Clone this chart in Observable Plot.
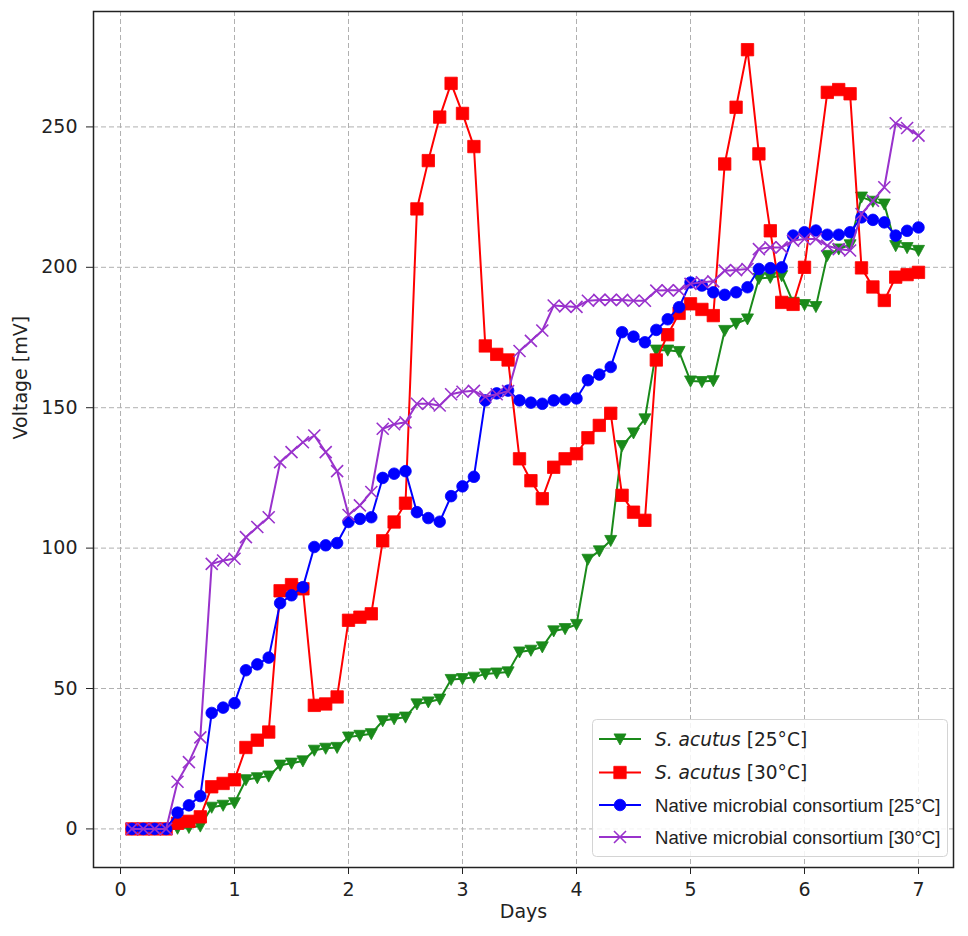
<!DOCTYPE html>
<html>
<head>
<meta charset="utf-8">
<script src="https://cdn.jsdelivr.net/npm/d3@7"></script>
<script src="https://cdn.jsdelivr.net/npm/@observablehq/plot@0.6"></script>
<style>
  html, body { margin: 0; padding: 0; background: white; }
  #wrap { position: relative; width: 968px; height: 936px; font-family: "DejaVu Sans", sans-serif; }
  #legend { position: absolute; left: 592px; top: 719px; overflow: visible; }
</style>
</head>
<body>
<div id="wrap"></div>
<script>
// ---- Data ----
const days = [0.1,0.2,0.3,0.4,0.5,0.6,0.7,0.8,0.9,1.0,
  1.1,1.2,1.3,1.4,1.5,1.6,1.7,1.8,1.9,2.0,
  2.1,2.2,2.3,2.4,2.5,2.6,2.7,2.8,2.9,3.0,
  3.1,3.2,3.3,3.4,3.5,3.6,3.7,3.8,3.9,4.0,
  4.1,4.2,4.3,4.4,4.5,4.6,4.7,4.8,4.9,5.0,
  5.1,5.2,5.3,5.4,5.5,5.6,5.7,5.8,5.9,6.0,
  6.1,6.2,6.3,6.4,6.5,6.6,6.7,6.8,6.9,7.0];

const sAcutus25 = [0,0,0,0,0.2,0.5,1,7.7,8.4,9.3,
  17.5,18.2,18.8,22.7,23.4,24.2,28,28.7,29,32.7,
  33.3,33.9,38.5,39.2,39.8,44.5,45.2,46.2,53.2,53.5,
  54,55.2,55.5,55.9,63,63.6,64.8,70.5,71.3,72.8,
  96,99,102.7,136.5,141,146,170.5,170.5,170,159.5,
  159.3,159.6,177.5,180,181.6,196,196.4,197,187.5,186.7,
  186,204.2,206.5,208,225,223.5,222.5,207.7,207,206];

const sAcutus30 = [0,0,0,0,2,2.7,4.3,15,16.2,17.5,
  29,31.6,34.5,84.8,87,85.5,44,44.5,47,74.3,
  75.4,76.6,102.6,109.3,116,220.8,238,253.5,265.5,254.8,
  243,172,169,167,131.8,124,117.6,128.8,131.8,133.6,
  139.3,143.7,148,118.8,112.8,109.9,167,176,183.6,187,
  185,182.8,236.8,257,277.5,240.4,213,187.5,186.8,200,
  null,262.3,263.3,261.8,199.8,193,188.2,196.5,197.4,198.2];

const native25 = [0,0,0,0,5.8,8.4,11.7,41.3,43.2,44.8,
  56.5,58.6,61,80.4,83.2,86.1,100.4,101,101.8,109.3,
  110.4,111,125,126.5,127.4,112.8,110.7,109.4,118.5,122,
  125.4,152.6,155.1,156.1,152.6,151.8,151.4,152.6,152.9,153.3,
  159.8,161.8,164.5,176.9,175.3,173.3,177.7,181.5,185.8,194.6,
  193.5,191.1,190.2,191.1,192.9,199.4,199.7,200,211.3,212.5,
  213.1,211.6,211.6,212.5,217.8,216.9,216,211.3,213,214.2];

const native30 = [0,0,0,0,16.8,23.8,32.6,94.4,95.6,96.2,
  103.9,107.5,111,130.6,134.2,137.7,140.1,134.2,127.4,111.8,
  115.2,120,142.5,144.1,144.8,151.4,151.4,150.8,154.8,155.7,
  156,153.9,154.8,155.9,170.2,173.8,177.5,186.4,186.1,185.9,
  188.1,188.4,188.4,188.4,188.1,188.1,191.7,191.8,191.8,194.1,
  194.7,195,198.8,199,199.4,206.5,207.1,207.1,209.5,210.1,
  210.1,207.7,206.5,206,219,223.7,228.5,251.3,249.6,246.9];

const seriesNames = ["S. acutus [25°C]", "S. acutus [30°C]",
  "Native microbial consortium [25°C]", "Native microbial consortium [30°C]"];
const seriesColors = ["#1a8a1a", "#ff0000", "#0000ff", "#9932cc"];
const xTicks = [0,1,2,3,4,5,6,7];
const yTicks = [0,50,100,150,200,250];

// ---- Symbols ----
const rr = s => Math.sqrt(s / Math.PI);
const symTriDown = {draw(c, s){ const r = rr(s); c.moveTo(-r, -0.85*r); c.lineTo(r, -0.85*r); c.lineTo(0, r); c.closePath(); }};
const symSquare = {draw(c, s){ const r = rr(s); c.rect(-r, -r, 2*r, 2*r); }};
const symCircle = {draw(c, s){ const r = rr(s); c.moveTo(r, 0); c.arc(0, 0, r, 0, 2*Math.PI); }};
const symX = {draw(c, s){ const r = rr(s); c.moveTo(-r,-r); c.lineTo(r,r); c.moveTo(-r,r); c.lineTo(r,-r); }};
const symbols = [symTriDown, symSquare, symCircle, symX];
const symR = [6, 6.2, 5.8, 6];

const allSeries = [sAcutus25, sAcutus30, native25, native30];
const rowsOf = vals => days.map((d, i) => ({day: d, v: vals[i]})).filter(r => r.v != null);

const seriesMarks = allSeries.flatMap((vals, k) => {
  const rows = rowsOf(vals);
  const col = seriesColors[k];
  const dot = k === 3
    ? Plot.dot(rows, {x: "day", y: "v", symbol: symbols[k], r: symR[k], fill: "none", stroke: col, strokeWidth: 1.6})
    : Plot.dot(rows, {x: "day", y: "v", symbol: symbols[k], r: symR[k], fill: col, stroke: col, strokeWidth: 0.8});
  return [Plot.line(rows, {x: "day", y: "v", stroke: col, strokeWidth: 2}), dot];
});

const gridStyle = {stroke: "#b0b0b0", strokeOpacity: 1, strokeWidth: 1, strokeDasharray: "5,3"};

const chart = Plot.plot({
  width: 968, height: 936,
  marginLeft: 93, marginRight: 15, marginTop: 11, marginBottom: 69,
  x: {domain: [-0.237, 7.307]},
  y: {domain: [-13.74, 291.1]},
  style: {fontFamily: "DejaVu Sans, sans-serif", fontSize: "19px", color: "#222", background: "white", overflow: "visible"},
  marks: [
    Plot.gridX(xTicks, gridStyle),
    Plot.gridY(yTicks, gridStyle),
    ...seriesMarks,
    Plot.frame({stroke: "#222", strokeWidth: 1.5}),
    Plot.axisX(xTicks, {tickSize: 7, tickPadding: 8, fontSize: 19, label: null, tickFormat: d => String(d)}),
    Plot.axisY(yTicks, {tickSize: 7, tickPadding: 9, fontSize: 19, label: null, tickFormat: d => String(d)}),
    Plot.text(["Days"], {text: d => d, frameAnchor: "bottom", dy: 50, fontSize: 19, fill: "#222"}),
    Plot.text(["Voltage [mV]"], {text: d => d, frameAnchor: "left", dx: -73, rotate: -90, fontSize: 19, fill: "#222"})
  ]
});
document.getElementById("wrap").appendChild(chart);

// ---- Legend (overlay inside the plot area) ----
const lw = 356, lh = 138;
const leg = d3.select("#wrap").append("svg").attr("id", "legend")
  .attr("width", lw).attr("height", lh);
leg.append("rect").attr("x", 0.5).attr("y", 0.5).attr("width", lw - 1).attr("height", lh - 1)
  .attr("rx", 4).attr("fill", "white").attr("fill-opacity", 0.85).attr("stroke", "#d4d4d4");
const rowY = [20, 53.5, 86, 118];
seriesNames.forEach((name, k) => {
  const y = rowY[k], col = seriesColors[k];
  leg.append("line").attr("x1", 7).attr("x2", 49).attr("y1", y).attr("y2", y)
    .attr("stroke", col).attr("stroke-width", 2);
  const path = d3.path();
  symbols[k].draw(path, Math.PI * symR[k] * symR[k]);
  leg.append("path").attr("d", path.toString()).attr("transform", `translate(28,${y})`)
    .attr("fill", k === 3 ? "none" : col).attr("stroke", col).attr("stroke-width", k === 3 ? 1.6 : 0.8);
  const t = leg.append("text").attr("x", 63).attr("y", y).attr("dy", "0.36em")
    .attr("font-size", 18.6).attr("fill", "#222");
  if (k < 2) {
    t.attr("font-family", "DejaVu Sans, sans-serif");
    t.append("tspan").attr("font-style", "italic").text("S. acutus");
    t.append("tspan").text(name.slice("S. acutus".length));
  } else {
    t.attr("font-family", "Liberation Sans, Arial, sans-serif").text(name);
  }
});
</script>
</body>
</html>
